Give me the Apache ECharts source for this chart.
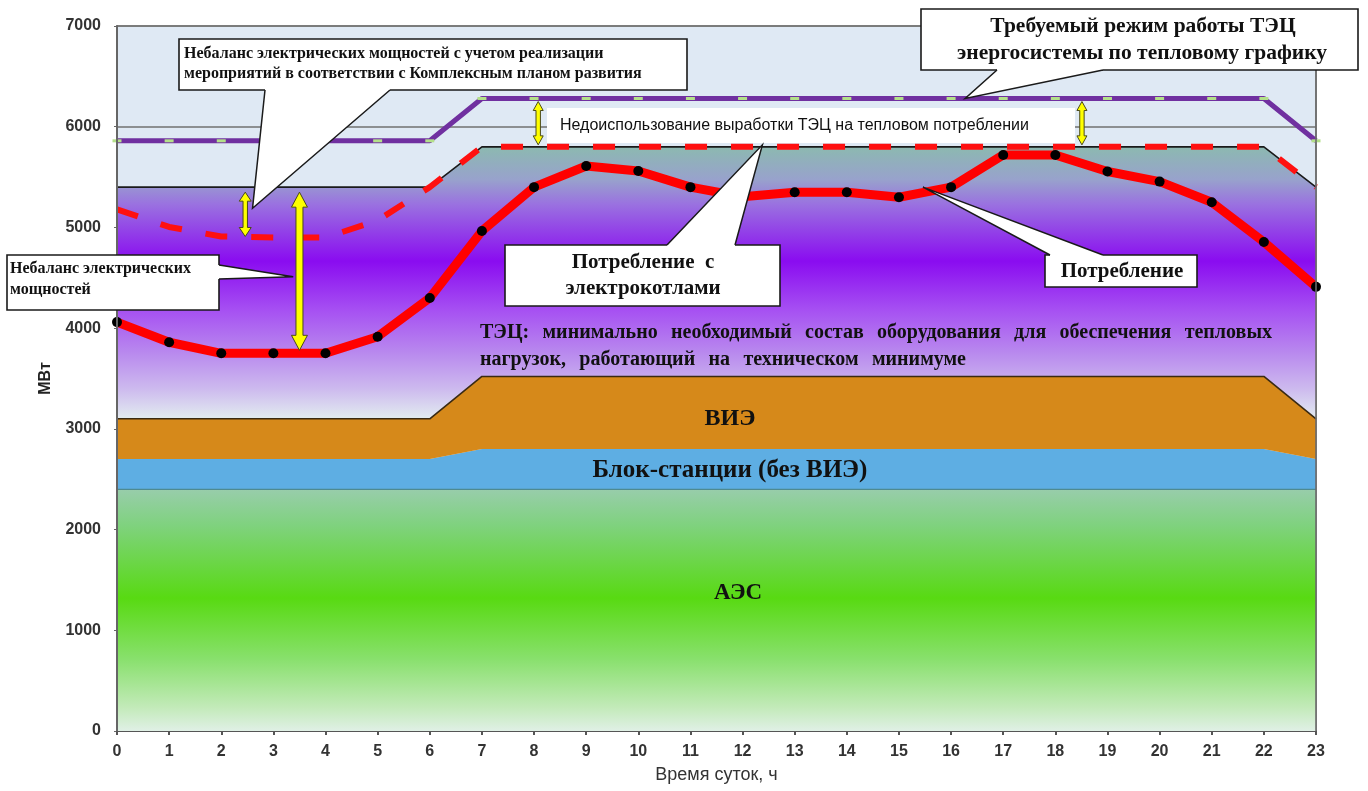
<!DOCTYPE html>
<html>
<head>
<meta charset="utf-8">
<script src="https://cdn.jsdelivr.net/npm/echarts@6/dist/echarts.min.js"></script>
<style>
html,body{margin:0;padding:0;background:#ffffff;}
#chart{width:1368px;height:791px;}
</style>
</head>
<body>
<div id="chart"></div>
<script>
// ---------------- DATA ----------------
const hours = ['0','1','2','3','4','5','6','7','8','9','10','11','12','13','14','15','16','17','18','19','20','21','22','23'];
const yTicks = [0,1000,2000,3000,4000,5000,6000,7000];

// stacked generation layers (MW)
const aes  = [2400,2400,2400,2400,2400,2400,2400,2400,2400,2400,2400,2400,2400,2400,2400,2400,2400,2400,2400,2400,2400,2400,2400,2400];
const blok = [300,300,300,300,300,300,300,400,400,400,400,400,400,400,400,400,400,400,400,400,400,400,400,300];
const vie  = [400,400,400,400,400,400,400,720,720,720,720,720,720,720,720,720,720,720,720,720,720,720,720,400];
const tec  = [2300,2300,2300,2300,2300,2300,2300,2280,2280,2280,2280,2280,2280,2280,2280,2280,2280,2280,2280,2280,2280,2280,2280,2300];

// lines (MW)
const required    = [5860,5860,5860,5860,5860,5860,5860,6280,6280,6280,6280,6280,6280,6280,6280,6280,6280,6280,6280,6280,6280,6280,6280,5860];
const withBoilers = [5180,5005,4910,4900,4900,5070,5400,5800,5800,5800,5800,5800,5800,5800,5800,5800,5800,5800,5800,5800,5800,5800,5800,5400];
const consumption = [4060,3860,3750,3750,3750,3915,4300,4965,5400,5610,5560,5400,5305,5350,5350,5300,5400,5720,5720,5555,5455,5250,4855,4410];

// ---------------- CHART ----------------
const serif = '"Liberation Serif","Times New Roman",serif';
const sans = '"Liberation Sans",Arial,sans-serif';

const chart = echarts.init(document.getElementById('chart'), null, {renderer: 'canvas'});

const option = {
  animation: false,
  backgroundColor: '#ffffff',
  grid: {left: 117, right: 52, top: 26, bottom: 60, show: true, backgroundColor: '#dfe9f4', borderColor: '#808080', borderWidth: 1.5},
  xAxis: {
    type: 'category', data: hours, boundaryGap: false,
    name: 'Время суток, ч', nameLocation: 'middle', nameGap: 35,
    nameTextStyle: {fontSize: 18, color: '#333', fontFamily: sans},
    axisLine: {show: true, lineStyle: {color: '#555', width: 2}},
    axisTick: {show: true, length: 4, interval: 0, lineStyle: {color: '#555', width: 2}},
    axisLabel: {margin: 13, interval: 0, fontSize: 16, fontWeight: 'bold', color: '#333', fontFamily: sans},
    splitLine: {show: false}
  },
  yAxis: {
    type: 'value', min: 0, max: 7000, interval: 1000,
    name: 'МВт', nameLocation: 'middle', nameGap: 63, nameRotate: 90,
    nameTextStyle: {fontSize: 16, fontWeight: 'bold', color: '#222', fontFamily: sans},
    axisLine: {show: true, lineStyle: {color: '#666', width: 2}},
    axisTick: {show: true, length: 3, lineStyle: {color: '#666'}},
    axisLabel: {margin: 16, fontSize: 16, fontWeight: 'bold', color: '#333', fontFamily: sans,
      formatter: v => yTicks.indexOf(v) >= 0 ? String(v) : ''},
    splitLine: {show: true, lineStyle: {color: '#707070', width: 1.5}}
  },
  series: [
    {name: 'АЭС', type: 'line', stack: 'gen', data: aes, symbol: 'none', z: 2,
      lineStyle: {width: 1.2, color: '#4e8a90'},
      areaStyle: {opacity: 1, color: new echarts.graphic.LinearGradient(0, 0, 0, 1, [
        {offset: 0, color: '#98cdab'}, {offset: 0.15, color: '#7fd27e'}, {offset: 0.45, color: '#58da12'},
        {offset: 0.7, color: '#88e06c'}, {offset: 0.9, color: '#c2eab8'}, {offset: 1, color: '#e0f0e6'}])}},
    {name: 'Блок-станции (без ВИЭ)', type: 'line', stack: 'gen', data: blok, symbol: 'none', z: 2,
      lineStyle: {width: 0, color: '#5eaee3'},
      areaStyle: {opacity: 1, color: '#5eaee3'}},
    {name: 'ВИЭ', type: 'line', stack: 'gen', data: vie, symbol: 'none', z: 2,
      lineStyle: {width: 1.6, color: '#3a2a12'},
      areaStyle: {opacity: 1, color: '#d6891a'}},
    {name: 'ТЭЦ', type: 'line', stack: 'gen', data: tec, symbol: 'none', z: 2,
      lineStyle: {width: 1.6, color: '#1a1a1a'},
      areaStyle: {opacity: 1, color: new echarts.graphic.LinearGradient(0, 0, 0, 1, [
        {offset: 0, color: '#8cb9b0'}, {offset: 0.12, color: '#98a2cc'}, {offset: 0.21, color: '#9a72e0'},
        {offset: 0.42, color: '#8a0cf0'}, {offset: 0.6, color: '#a650f2'}, {offset: 0.76, color: '#b98aee'},
        {offset: 0.89, color: '#cdbaee'}, {offset: 1, color: '#e2ecf0'}])}},
    {name: 'Требуемый режим', type: 'line', data: required, z: 5,
      symbol: 'rect', symbolSize: [9, 3], showSymbol: true,
      itemStyle: {color: '#b4e08a', borderWidth: 0},
      lineStyle: {width: 5, color: '#7030a0'}},
    {name: 'Потребление с электрокотлами', type: 'line', data: withBoilers, symbol: 'none', z: 6,
      lineStyle: {width: 6, color: '#ff1010', type: [22, 24]}},
    {name: 'Потребление', type: 'line', data: consumption, z: 7,
      symbol: 'circle', symbolSize: 10, showSymbol: true,
      itemStyle: {color: '#000', borderWidth: 0},
      lineStyle: {width: 9, color: '#ff0000'}}
  ]
};
chart.setOption(option);

// ---------------- ANNOTATIONS ----------------
// pixel position of (fractional hour, MW) via the chart's own axes
const p0 = chart.convertToPixel({gridIndex: 0}, [0, 0]);
const p23 = chart.convertToPixel({gridIndex: 0}, [23, 7000]);
const P = (h, v) => {
  const y = chart.convertToPixel({yAxisIndex: 0}, v);
  const x = p0[0] + (p23[0] - p0[0]) * h / 23;
  return [x, y];
};
const G = [];
const Z = 100;

const measureCtx = document.createElement('canvas').getContext('2d');
function textW(t, font) { measureCtx.font = font; return measureCtx.measureText(t).width; }

function box(x0, y0, x1, y1, border) {
  G.push({type: 'rect', z: Z, shape: {x: x0, y: y0, width: x1 - x0, height: y1 - y0},
    style: {fill: '#ffffff', stroke: border ? '#1a1a1a' : null, lineWidth: border ? 1.6 : 0}});
}
function txt(t, x, y, font, align) {
  G.push({type: 'text', z: Z + 5, style: {text: t, x: x, y: y, font: font, fill: '#111',
    align: align || 'left', verticalAlign: 'middle'}});
}
function pointer(b1, b2, tip, d) {
  G.push({type: 'polygon', z: Z + 2, shape: {points: [[b1[0] + d[0], b1[1] + d[1]], b1, tip, b2, [b2[0] + d[0], b2[1] + d[1]]]},
    style: {fill: '#ffffff'}});
  G.push({type: 'polyline', z: Z + 3, shape: {points: [b1, tip, b2]},
    style: {stroke: '#1a1a1a', lineWidth: 1.5, fill: null}});
}
function arrow(xv, yTopV, yBotV, insTop, insBot, s, w, h) {
  const a = P(xv, yTopV), b = P(xv, yBotV);
  const cx = a[0], yt = a[1] + insTop, yb = b[1] - insBot;
  G.push({type: 'polygon', z: Z + 4, shape: {points: [[cx, yt], [cx + w, yt + h], [cx + s, yt + h], [cx + s, yb - h], [cx + w, yb - h],
    [cx, yb], [cx - w, yb - h], [cx - s, yb - h], [cx - s, yt + h], [cx - w, yt + h]]},
    style: {fill: '#ffff00', stroke: '#4a4a1a', lineWidth: 1}});
}
function justify(words, x0, x1, y, font) {
  const widths = words.map(w => textW(w, font));
  const total = widths.reduce((a, b) => a + b, 0);
  const gap = (x1 - x0 - total) / (words.length - 1);
  let x = x0;
  words.forEach((w, i) => { txt(w, x, y, font, 'left'); x += widths[i] + gap; });
}

// frame lines on top of areas
G.push({type: 'line', z: Z - 10, shape: {x1: p23[0], y1: p23[1], x2: p23[0], y2: p0[1]}, style: {stroke: '#6a6a6a', lineWidth: 1.6}});
G.push({type: 'line', z: Z - 10, shape: {x1: p0[0], y1: p23[1], x2: p0[0], y2: p0[1]}, style: {stroke: '#666', lineWidth: 2}});

// Box: imbalance with development plan
const fB = 'bold 16px ' + serif;
box(179, 39, 687, 90, true);
pointer([265, 90], [390, 90], P(2.6, 5190), [0, -3]);
txt('Небаланс электрических мощностей с учетом реализации', 184, 54, fB);
txt('мероприятий в соответствии с Комплексным планом развития', 184, 74, fB);

// Box: imbalance
box(7, 255, 219, 310, true);
pointer([219, 265], [219, 279], P(3.38, 4510), [-3, 0]);
txt('Небаланс электрических', 10, 269, 'bold 16px ' + serif);
txt('мощностей', 10, 290, 'bold 16px ' + serif);

// Under-use text box (no border)
box(547, 108, 1075, 143, false);
txt('Недоиспользование выработки ТЭЦ на тепловом потреблении', 560, 126, '16px ' + sans);

// Box: consumption with electric boilers
const fC = 'bold 21px ' + serif;
box(505, 245, 780, 306, true);
pointer([667, 245], [735, 245], P(12.38, 5820), [0, 3]);
txt('Потребление  с', 643, 263, fC, 'center');
txt('электрокотлами', 643, 289, fC, 'center');

// Box: required CHP mode
const fR = 'bold 21.5px ' + serif;
box(921, 9, 1358, 70, true);
pointer([997, 70], [1103, 70], P(16.27, 6280), [0, -3]);
txt('Требуемый режим работы ТЭЦ', 1143, 26, fR, 'center');
txt('энергосистемы по тепловому графику', 1142, 53, fR, 'center');

// Box: consumption
box(1045, 255, 1197, 287, true);
pointer([1050, 255], [1103, 255], P(15.46, 5400), [0, 3]);
txt('Потребление', 1122, 272, 'bold 21px ' + serif, 'center');

// Yellow double arrows
arrow(2.46, 5400, 4900, 5, 1, 2.2, 6, 9);
arrow(3.5, 5400, 3750, 5, 3, 3.5, 8, 15);
arrow(8.08, 6280, 5800, 3, 2, 2.2, 5, 9);
arrow(18.51, 6280, 5800, 3, 2, 2.2, 5, 9);

// Area labels
const fT = 'bold 20px ' + serif;
justify('ТЭЦ: минимально необходимый состав оборудования для обеспечения тепловых'.split(' '), 480, 1272, 333, fT);
justify('нагрузок, работающий на техническом минимуме'.split(' '), 480, 966, 360, fT);
txt('ВИЭ', 730, 419, 'bold 24px ' + serif, 'center');
txt('Блок-станции (без ВИЭ)', 730, 471, 'bold 25px ' + serif, 'center');
txt('АЭС', 738, 593, 'bold 23px ' + serif, 'center');

chart.setOption({graphic: {elements: G}});
</script>
</body>
</html>
